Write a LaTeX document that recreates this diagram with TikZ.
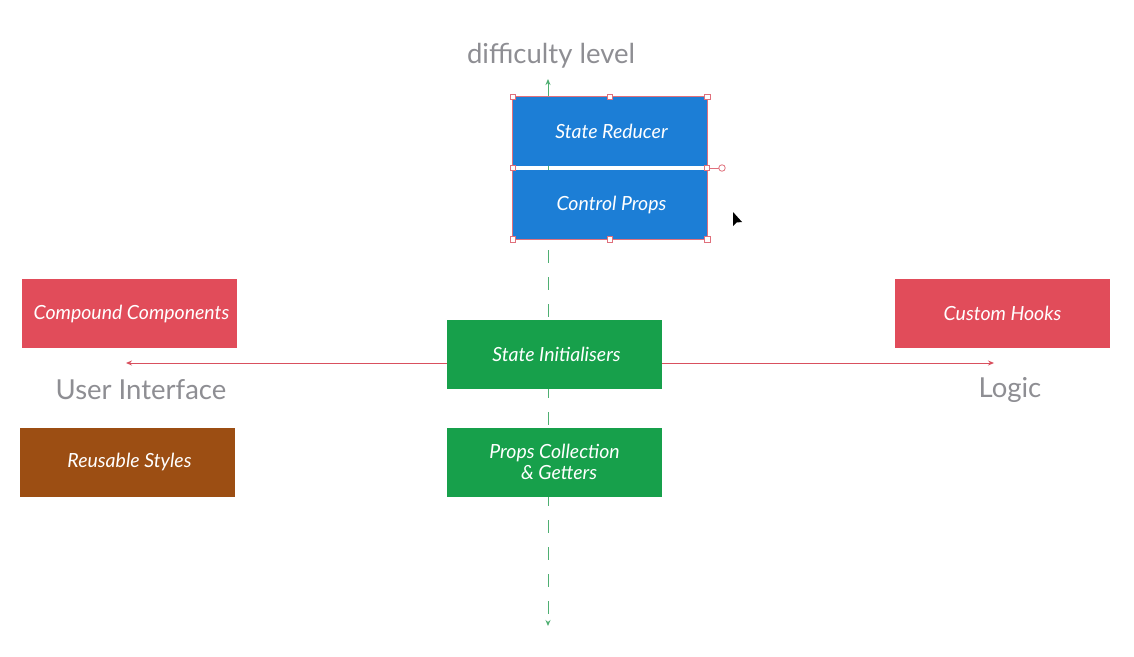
\documentclass[tikz,border=0pt]{standalone}
\usepackage{fontspec}
\setmainfont{Lato}
\setsansfont{Lato}
\usetikzlibrary{arrows.meta}
\definecolor{boxblue}{HTML}{1C7ED6}
\definecolor{boxred}{HTML}{E14C5A}
\definecolor{boxgreen}{HTML}{17A04B}
\definecolor{boxbrown}{HTML}{9C4E13}
\definecolor{labgray}{HTML}{8E8E93}
\definecolor{selpink}{HTML}{E0707C}
\definecolor{axisgreen}{HTML}{4FAF72}
\definecolor{axisred}{HTML}{D9505E}
\tikzset{
  card/.style={draw=none, text=white, font=\fontsize{19.5}{21.5}\selectfont\itshape, align=center, inner sep=0pt},
  wide/.style={card, minimum width=215pt, minimum height=69pt},
  blue/.style={card, fill=boxblue, minimum width=194pt, minimum height=69pt},
  axislabel/.style={text=labgray, font=\fontsize{27.5}{30}\selectfont, inner sep=0pt},
  handle/.style={draw=selpink, fill=white, line width=0.8pt, minimum size=5.5pt, inner sep=0pt, rectangle},
}
\begin{document}
\begin{tikzpicture}[x=1pt,y=-1pt]
\useasboundingbox[fill=white] (0,0) rectangle (1134,656);
% axis endpoints
\coordinate (vtop) at (548,79);
\coordinate (vbot) at (548,626);
\coordinate (hleft) at (126,363);
\coordinate (hright) at (994,363);
\draw[axisgreen, line width=1pt, dash pattern=on 13pt off 14pt, -{Stealth[length=6pt,width=5pt]}] (548,250) -- (vbot);
\draw[axisgreen, line width=1pt, -{Stealth[length=6pt,width=5pt]}] (548,97) -- (vtop);
\draw[axisred, line width=1pt, {Stealth[length=6pt,width=5pt]}-{Stealth[length=6pt,width=5pt]}] (hleft) -- (hright);
% labels
\node[axislabel] (dl) at (551,56) {difficulty level};
\node[axislabel] (ui) at (141,390) {User Interface};
\node[axislabel] (lg) at (1010,390) {Logic};
% blue boxes
\node[blue] (sr) at (610,131.5) {\hspace{3pt}State Reducer};
\node[blue] (cp) at (610,204.5) {\hspace{3pt}Control Props};
\draw[axisgreen, line width=1pt] (548,166) -- (548,170);
% boxes
\node[wide, fill=boxred] (cc) at (129.5,313.5) {\hspace{4pt}Compound Components};
\node[wide, fill=boxred] (ch) at (1002.5,313.5) {Custom Hooks};
\node[wide, fill=boxgreen] (si) at (554.5,354) {\hspace{4pt}State Initialisers};
\node[wide, fill=boxgreen] (pc) at (554.5,462) {Props Collection\\\ \ \& Getters};
\node[wide, fill=boxbrown] (rs) at (127.5,462) {\hspace{4pt}Reusable Styles};
% selection frame
\draw[selpink, line width=0.8pt] (sr.north west) rectangle (cp.south east);
\coordinate (midl) at (513,168);
\coordinate (midr) at (707,168);
\coordinate (rot) at (722,168);
\draw[selpink, line width=0.8pt] (midr) -- (rot);
\node[draw=selpink, fill=white, circle, line width=0.8pt, minimum size=6.5pt, inner sep=0pt] (roth) at (rot) {};
\node[handle] (h1) at (sr.north west) {};
\node[handle] (h2) at (sr.north) {};
\node[handle] (h3) at (sr.north east) {};
\node[handle] (h4) at (midl) {};
\node[handle] (h5) at (midr) {};
\node[handle] (h6) at (cp.south west) {};
\node[handle] (h7) at (cp.south) {};
\node[handle] (h8) at (cp.south east) {};
% cursor
\fill[black] (733,212) -- (733,226) -- (736.5,222.5) -- (742,222) -- cycle;
\end{tikzpicture}
\end{document}
